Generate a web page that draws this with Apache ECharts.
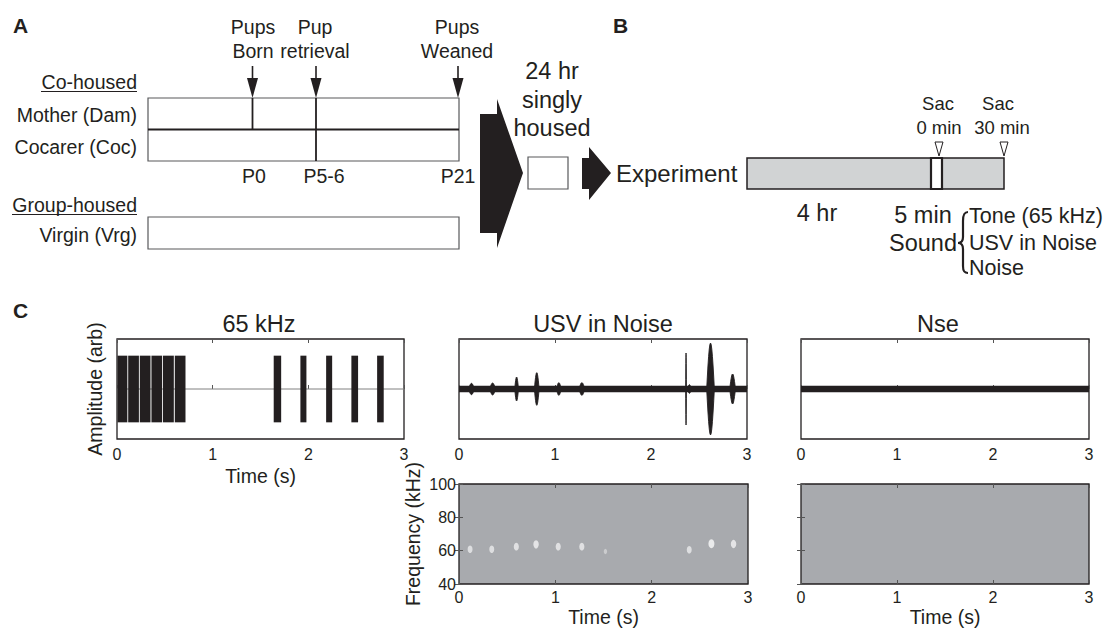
<!DOCTYPE html>
<html>
<head>
<meta charset="utf-8">
<title>Housing timeline and sound stimuli</title>
<script src="https://cdn.jsdelivr.net/npm/echarts@6.0.0/dist/echarts.min.js"></script>
<style>
  body { margin: 0; background: #fff; }
  #chart { width: 1111px; height: 632px; }
</style>
</head>
<body>
<div id="chart"></div>
<script>
// ---- data ----
// C, 65 kHz tone: pip on / off times (s), normalised amplitude
var toneOn  = [0.005, 0.117, 0.238, 0.360, 0.481, 0.604, 1.638, 1.917, 2.186, 2.450, 2.719];
var toneOff = [0.108, 0.229, 0.350, 0.472, 0.594, 0.716, 1.716, 1.980, 2.249, 2.520, 2.788];
var toneAmp = 1.0;
var toneBaseline = [[0, 0], [3, 0]];

// C, USV in noise: call centre (s), half duration (s), peak amplitude
var usvTime = [0.13, 0.35, 0.60, 0.81, 1.04, 1.28, 2.365, 2.40, 2.62, 2.85];
var usvHalf = [0.030, 0.030, 0.020, 0.025, 0.025, 0.030, 0.004, 0.020, 0.040, 0.030];
var usvAmp  = [0.17, 0.18, 0.36, 0.49, 0.19, 0.19, 1.08, 0.13, 1.38, 0.45];
var usvNoise = 0.10;
var nseNoise = 0.10;

// spectrogram: call time (s), frequency (kHz), relative power
var callTime  = [0.115, 0.34, 0.595, 0.80, 1.03, 1.275, 1.52, 2.39, 2.62, 2.85];
var callFreq  = [60.8, 60.8, 62.4, 63.8, 62.4, 62.4, 59.5, 60.6, 64.2, 64.0];
var callPower = [0.70, 0.70, 0.75, 0.85, 0.75, 0.75, 0.25, 0.70, 1.00, 0.85];

var timeRange = [0, 3];
var freqRange = [40, 100];

// A / B schematic labels
var rowsA = ['Mother (Dam)', 'Cocarer (Coc)', 'Virgin (Vrg)'];
var eventsTop = [['Pups', 'Born'], ['Pup', 'retrieval'], ['Pups', 'Weaned']];
var eventsDay = ['P0', 'P5-6', 'P21'];
var soundTypes = ['Tone (65 kHz)', 'USV in Noise', 'Noise'];

var INK = '#231f20';
var FONT = '"Liberation Sans", Arial, sans-serif';

// ---- schematic helpers ----
function txt(x, y, s, size, align, bold) {
    return { type: 'text', x: x, y: y, silent: true,
        style: { text: s, fontSize: size, fontFamily: FONT, fill: INK,
            align: align || 'center', verticalAlign: 'middle', fontWeight: bold ? 'bold' : 'normal' } };
}
function seg(x1, y1, x2, y2, w, c) {
    return { type: 'line', silent: true, shape: { x1: x1, y1: y1, x2: x2, y2: y2 },
        style: { stroke: c || INK, lineWidth: w || 1.2 } };
}
function box(x, y, w, h, fill, stroke, lw) {
    return { type: 'rect', silent: true, shape: { x: x, y: y, width: w, height: h },
        style: { fill: fill || 'none', stroke: stroke || '#58595b', lineWidth: lw || 1.2 } };
}
function poly(pts, fill, stroke, lw) {
    return { type: 'polygon', silent: true, shape: { points: pts },
        style: { fill: fill || INK, stroke: stroke || null, lineWidth: lw || 0 } };
}
function curve(x1, y1, c1x, c1y, c2x, c2y, x2, y2) {
    return { type: 'bezierCurve', silent: true,
        shape: { x1: x1, y1: y1, cpx1: c1x, cpy1: c1y, cpx2: c2x, cpy2: c2y, x2: x2, y2: y2 },
        style: { stroke: INK, lineWidth: 2.2, fill: 'none' } };
}
function downArrow(x) {
    return [seg(x, 66, x, 80, 1.6), poly([[x - 5.5, 78], [x + 5.5, 78], [x, 98]])];
}

var schematic = [];
// panel A
schematic.push(txt(13, 25, 'A', 21, 'left', true));
[253, 315, 457].forEach(function (x, i) {
    schematic.push(txt(x, 27, eventsTop[i][0], 19.5));
    schematic.push(txt(x, 51, eventsTop[i][1], 19.5));
});
[252.5, 316, 458].forEach(function (x) { schematic = schematic.concat(downArrow(x)); });
schematic.push(box(148, 98, 311, 63));
schematic.push(seg(148, 129.5, 459, 129.5, 1.8));
schematic.push(seg(252.5, 98, 252.5, 129.5, 1.8));
schematic.push(seg(316, 98, 316, 161, 1.8));
schematic.push(txt(137, 82, 'Co-housed', 19.5, 'right'));
schematic.push(seg(41, 91.5, 137, 91.5, 1.2));
schematic.push(txt(137, 115, rowsA[0], 19.5, 'right'));
schematic.push(txt(137, 147, rowsA[1], 19.5, 'right'));
[254, 324, 458].forEach(function (x, i) { schematic.push(txt(x, 176, eventsDay[i], 19.5)); });
schematic.push(txt(137, 205, 'Group-housed', 19.5, 'right'));
schematic.push(seg(12, 214.5, 137, 214.5, 1.2));
schematic.push(txt(137, 235, rowsA[2], 19.5, 'right'));
schematic.push(box(148, 217, 311, 32));
schematic.push(poly([[480, 114], [497, 114], [497, 99], [523, 173], [497, 248], [497, 233], [480, 233]]));
schematic.push(txt(552, 71, '24 hr', 23.5));
schematic.push(txt(552, 100, 'singly', 23.5));
schematic.push(txt(552, 128, 'housed', 23.5));
schematic.push(box(528, 157, 40, 32));
schematic.push(poly([[582, 158], [589, 158], [589, 147], [611, 173], [589, 200], [589, 189], [582, 189]]));
// panel B
schematic.push(txt(613, 25, 'B', 21, 'left', true));
schematic.push(txt(616, 173, 'Experiment', 24, 'left'));
schematic.push(box(747, 158, 257, 31, '#d1d3d4', INK, 1.5));
schematic.push(box(931, 158, 11, 31, '#ffffff', INK, 2.2));
[939, 1004].forEach(function (x) {
    schematic.push(poly([[x - 4, 142], [x + 4, 142], [x, 156]], '#ffffff', INK, 1));
});
schematic.push(txt(938, 103, 'Sac', 18.5));
schematic.push(txt(998, 103, 'Sac', 18.5));
schematic.push(txt(939, 127, '0 min', 18.5));
schematic.push(txt(1002, 127, '30 min', 18.5));
schematic.push(txt(817, 213, '4 hr', 23.5));
schematic.push(txt(923, 215, '5 min', 23.5));
schematic.push(txt(957, 243, 'Sound', 23.5, 'right'));
schematic.push(curve(968, 212, 964, 212, 963, 215, 963, 221));
schematic.push(seg(963, 221, 963, 237, 2.2));
schematic.push(curve(963, 237, 963, 241, 961, 243, 958, 243));
schematic.push(curve(958, 243, 961, 243, 963, 245, 963, 249));
schematic.push(seg(963, 249, 963, 266, 2.2));
schematic.push(curve(963, 266, 963, 271, 964, 273, 968, 273));
soundTypes.forEach(function (s, i) { schematic.push(txt(969, [216, 243, 268][i], s, 21.5, 'left')); });
// panel C letter
schematic.push(txt(13, 310, 'C', 21, 'left', true));

// ---- plot helpers ----
function bandItem(params, api) {
    var a = api.coord([api.value(0), api.value(2)]);
    var b = api.coord([api.value(1), -api.value(2)]);
    return { type: 'rect', shape: { x: a[0], y: a[1], width: b[0] - a[0], height: b[1] - a[1] },
        style: { fill: INK } };
}
function spindleItem(params, api) {
    var c = api.value(0), h = api.value(1), amp = api.value(2), pts = [], k, f;
    for (k = 0; k <= 12; k++) { f = k / 12; pts.push(api.coord([c - h + 2 * h * f, amp * Math.sin(Math.PI * f)])); }
    for (k = 12; k >= 0; k--) { f = k / 12; pts.push(api.coord([c - h + 2 * h * f, -amp * Math.sin(Math.PI * f)])); }
    return { type: 'polygon', shape: { points: pts }, style: { fill: INK, stroke: INK, lineWidth: 0.9 } };
}

var grids = [
    { left: 117, top: 339, width: 287, height: 100 },
    { left: 459, top: 339, width: 288, height: 100 },
    { left: 801, top: 339, width: 288, height: 100 },
    { left: 459, top: 484, width: 289, height: 100 },
    { left: 801, top: 484, width: 288, height: 100 }
].map(function (g, i) {
    g.show = true;
    g.borderColor = INK;
    g.borderWidth = 1.3;
    g.backgroundColor = i >= 3 ? '#a8aaae' : '#ffffff';
    g.containLabel = false;
    g.outerBoundsMode = 'none';
    return g;
});

var tickStyle = { show: true, inside: true, length: 4, lineStyle: { color: '#555', width: 1 } };
var labelStyle = { fontSize: 16, color: INK, fontFamily: FONT, margin: 7, showMinLabel: true, showMaxLabel: true };
var nameStyle = { fontSize: 19.5, color: INK, fontFamily: FONT };

var xAxes = [];
grids.forEach(function (g, i) {
    var spec = i >= 3;
    xAxes.push({ type: 'value', gridIndex: i, min: timeRange[0], max: timeRange[1], interval: 1,
        axisLine: { show: false }, splitLine: { show: false }, axisTick: tickStyle,
        axisLabel: Object.assign({}, labelStyle, { margin: spec ? 5 : 7 }),
        name: (i === 0 || spec) ? 'Time (s)' : '', nameLocation: 'middle', nameGap: spec ? 23 : 27,
        nameTextStyle: nameStyle });
    xAxes.push({ type: 'value', gridIndex: i, position: 'top', min: timeRange[0], max: timeRange[1], interval: 1,
        axisLine: { show: false }, splitLine: { show: false }, axisTick: tickStyle,
        axisLabel: { show: false } });
});

var yAxes = [];
[0, 1, 2].forEach(function (i) {
    yAxes.push({ type: 'value', gridIndex: i, min: -1.5, max: 1.5,
        axisLine: { show: false }, splitLine: { show: false }, axisTick: { show: false },
        axisLabel: { show: false },
        name: i === 0 ? 'Amplitude (arb)' : '', nameLocation: 'middle', nameGap: 12,
        nameTextStyle: nameStyle });
});
[3, 4].forEach(function (i) {
    yAxes.push({ type: 'value', gridIndex: i, min: freqRange[0], max: freqRange[1], interval: 20,
        axisLine: { show: false }, splitLine: { show: false }, axisTick: tickStyle,
        axisLabel: i === 3 ? Object.assign({}, labelStyle, { margin: 3 }) : { show: false },
        name: i === 3 ? 'Frequency (kHz)' : '', nameLocation: 'middle', nameGap: 36,
        nameTextStyle: nameStyle });
});
[3, 4].forEach(function (i) {
    yAxes.push({ type: 'value', gridIndex: i, position: 'right', min: freqRange[0], max: freqRange[1], interval: 20,
        axisLine: { show: false }, splitLine: { show: false }, axisTick: tickStyle,
        axisLabel: { show: false } });
});

var titleStyle = { fontSize: 23.5, fontWeight: 'normal', color: INK, fontFamily: FONT };

var chart = echarts.init(document.getElementById('chart'), null, { renderer: 'svg' });
chart.setOption({
    animation: false,
    backgroundColor: '#ffffff',
    textStyle: { fontFamily: FONT },
    title: [
        { text: '65 kHz', left: 259, top: 312, textAlign: 'center', textStyle: titleStyle, padding: 0 },
        { text: 'USV in Noise', left: 603, top: 312, textAlign: 'center', textStyle: titleStyle, padding: 0 },
        { text: 'Nse', left: 938, top: 312, textAlign: 'center', textStyle: titleStyle, padding: 0 }
    ],
    graphic: schematic,
    grid: grids,
    xAxis: xAxes,
    yAxis: yAxes,
    series: [
        {
            type: 'line', xAxisIndex: 0, yAxisIndex: 0, data: toneBaseline,
            symbol: 'none', lineStyle: { color: '#808080', width: 1 }, z: 1
        },
        {
            type: 'custom', xAxisIndex: 0, yAxisIndex: 0, renderItem: bandItem,
            encode: { x: [0, 1], y: 2 }, z: 2,
            data: toneOn.map(function (t, i) { return [t, toneOff[i], toneAmp]; })
        },
        {
            type: 'custom', xAxisIndex: 2, yAxisIndex: 1, renderItem: bandItem,
            encode: { x: [0, 1], y: 2 },
            data: [[timeRange[0], timeRange[1], usvNoise]]
        },
        {
            type: 'custom', xAxisIndex: 2, yAxisIndex: 1, renderItem: spindleItem,
            encode: { x: 0, y: 2 },
            data: usvTime.map(function (t, i) { return [t, usvHalf[i], usvAmp[i]]; })
        },
        {
            type: 'custom', xAxisIndex: 4, yAxisIndex: 2, renderItem: bandItem,
            encode: { x: [0, 1], y: 2 },
            data: [[timeRange[0], timeRange[1], nseNoise]]
        },
        {
            type: 'scatter', xAxisIndex: 6, yAxisIndex: 3,
            data: callTime.map(function (t, i) { return [t, callFreq[i], callPower[i]]; }),
            symbol: 'circle',
            symbolSize: function (v) { return [2.5 + 3.5 * v[2], 4 + 5 * v[2]]; },
            itemStyle: {
                color: function (p) { return 'rgba(255,255,255,' + (0.35 + 0.6 * p.value[2]).toFixed(2) + ')'; }
            }
        }
    ]
});
</script>
</body>
</html>
